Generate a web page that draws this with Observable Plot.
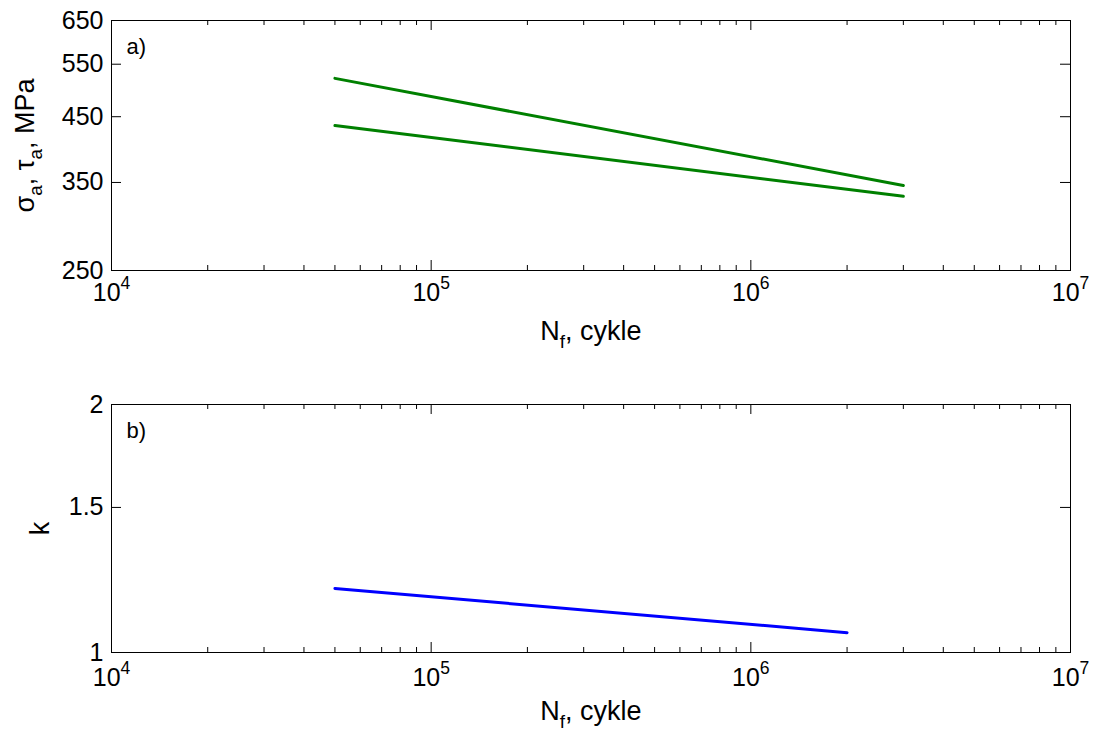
<!DOCTYPE html>
<html>
<head>
<meta charset="utf-8">
<script src="https://cdn.jsdelivr.net/npm/d3@7"></script>
<script src="https://cdn.jsdelivr.net/npm/@observablehq/plot@0.6"></script>
<style>
  html, body { margin: 0; padding: 0; background: #fff; }
  #chart svg { display: block; }
</style>
</head>
<body>
<div id="chart"></div>
<script>
// ---- data ----
const cyclesA = [5e4, 3e6];          // N_f, cycles (panel a)
const sigmaA = [521, 346];           // sigma_a, MPa
const tauA = [435, 332];             // tau_a, MPa
const cyclesB = [5e4, 2e6];          // N_f, cycles (panel b)
const kRatio = [1.196, 1.057];       // k

const xMajor = [1e4, 1e5, 1e6, 1e7];
const xTickLabels = ["10^{4}", "10^{5}", "10^{6}", "10^{7}"];
const yTicksA = [250, 350, 450, 550, 650];
const yTicksB = [1, 1.5, 2];
const yTickLabelsB = ["1", "1.5", "2"];

const xMinor = [];
for (const d of [1e4, 1e5, 1e6]) for (let m = 2; m <= 9; m++) xMinor.push(d * m);

const W = 1097;
const font = "Liberation Sans, Arial, Helvetica, sans-serif";
const tickFont = 25, titleFont = 27, tagFont = 22;

function richify(svg) {
  d3.select(svg).selectAll("text").each(function () {
    const t = this.textContent;
    if (!/[_^]\{/.test(t)) return;
    const sel = d3.select(this);
    sel.text("");
    const fs = parseFloat(this.getAttribute("font-size") || (this.parentNode && this.parentNode.getAttribute("font-size"))) || 20;
    const re = /([_^])\{([^}]*)\}/g;
    let last = 0, m, off = 0;
    const add = (s, target, size) => {
      const sp = sel.append("tspan").text(s);
      if (target !== off) { sp.attr("dy", target - off); off = target; }
      if (size) sp.attr("font-size", size);
    };
    while ((m = re.exec(t))) {
      if (m.index > last) add(t.slice(last, m.index), 0);
      if (m[1] === "_") add(m[2], fs * 0.3, fs * 0.7);
      else add(m[2], -fs * 0.45, fs * 0.7);
      last = re.lastIndex;
    }
    if (last < t.length) add(t.slice(last), 0);
  });
}

function panel({height, marginTop, marginBottom, yDomain, yTicks, yLabels, lines, yTitle, yTitleDx, tag, xLabelDy, xTitleDy}) {
  const marginLeft = 111, marginRight = 27;
  const pw = W - marginLeft - marginRight;
  const ph = height - marginTop - marginBottom;
  const marks = [
    Plot.frame({stroke: "black", strokeWidth: 1}),
    Plot.tickX(xMajor, {x: d => d, insetTop: ph - 10, stroke: "black"}),
    Plot.tickX(xMajor, {x: d => d, insetBottom: ph - 10, stroke: "black"}),
    Plot.tickX(xMinor, {x: d => d, insetTop: ph - 5, stroke: "black"}),
    Plot.tickX(xMinor, {x: d => d, insetBottom: ph - 5, stroke: "black"}),
    Plot.tickY(yTicks, {y: d => d, insetRight: pw - 10, stroke: "black"}),
    Plot.tickY(yTicks, {y: d => d, insetLeft: pw - 10, stroke: "black"}),
    Plot.text(xMajor, {x: d => d, text: (d, i) => xTickLabels[i], frameAnchor: "bottom", dy: xLabelDy, fontSize: tickFont, fill: "black"}),
    Plot.text(yTicks, {y: d => d, text: (d, i) => yLabels[i], frameAnchor: "left", textAnchor: "end", dx: -8, fontSize: tickFont, fill: "black"}),
    Plot.text([0], {text: () => "N_{f}, cykle", frameAnchor: "bottom", textAnchor: "middle", dy: xTitleDy, fontSize: titleFont, fill: "black"}),
    Plot.text([0], {text: () => yTitle, frameAnchor: "left", textAnchor: "middle", rotate: -90, dx: yTitleDx, fontSize: titleFont, fill: "black"}),
    Plot.text([0], {text: () => tag, frameAnchor: "top-left", textAnchor: "start", dx: 15, dy: 18, fontSize: tagFont, fill: "black"}),
    ...lines
  ];
  const svg = Plot.plot({
    width: W, height, marginTop, marginBottom, marginLeft, marginRight,
    style: {fontFamily: font, background: "white", color: "black"},
    x: {type: "log", domain: [1e4, 1e7], axis: null},
    y: {type: "log", domain: yDomain, axis: null},
    marks
  });
  richify(svg);
  return svg;
}

const dataA = cyclesA.map((n, i) => ({n, sigma: sigmaA[i], tau: tauA[i]}));
const dataB = cyclesB.map((n, i) => ({n, k: kRatio[i]}));

const panelA = panel({
  height: 367, marginTop: 20, marginBottom: 97,
  yDomain: [250, 650], yTicks: yTicksA, yLabels: yTicksA.map(String),
  yTitle: "σ_{a}, τ_{a}, MPa", yTitleDx: -86, tag: "a)", xLabelDy: 30, xTitleDy: 69,
  lines: [
    Plot.line(dataA, {x: "n", y: "sigma", stroke: "#008000", strokeWidth: 3}),
    Plot.line(dataA, {x: "n", y: "tau", stroke: "#008000", strokeWidth: 3})
  ]
});
const panelB = panel({
  height: 368, marginTop: 37, marginBottom: 83,
  yDomain: [1, 2], yTicks: yTicksB, yLabels: yTickLabelsB,
  yTitle: "k", yTitleDx: -71, tag: "b)", xLabelDy: 33, xTitleDy: 67,
  lines: [
    Plot.line(dataB, {x: "n", y: "k", stroke: "#0000ff", strokeWidth: 3})
  ]
});
document.getElementById("chart").append(panelA, panelB);
</script>
</body>
</html>
